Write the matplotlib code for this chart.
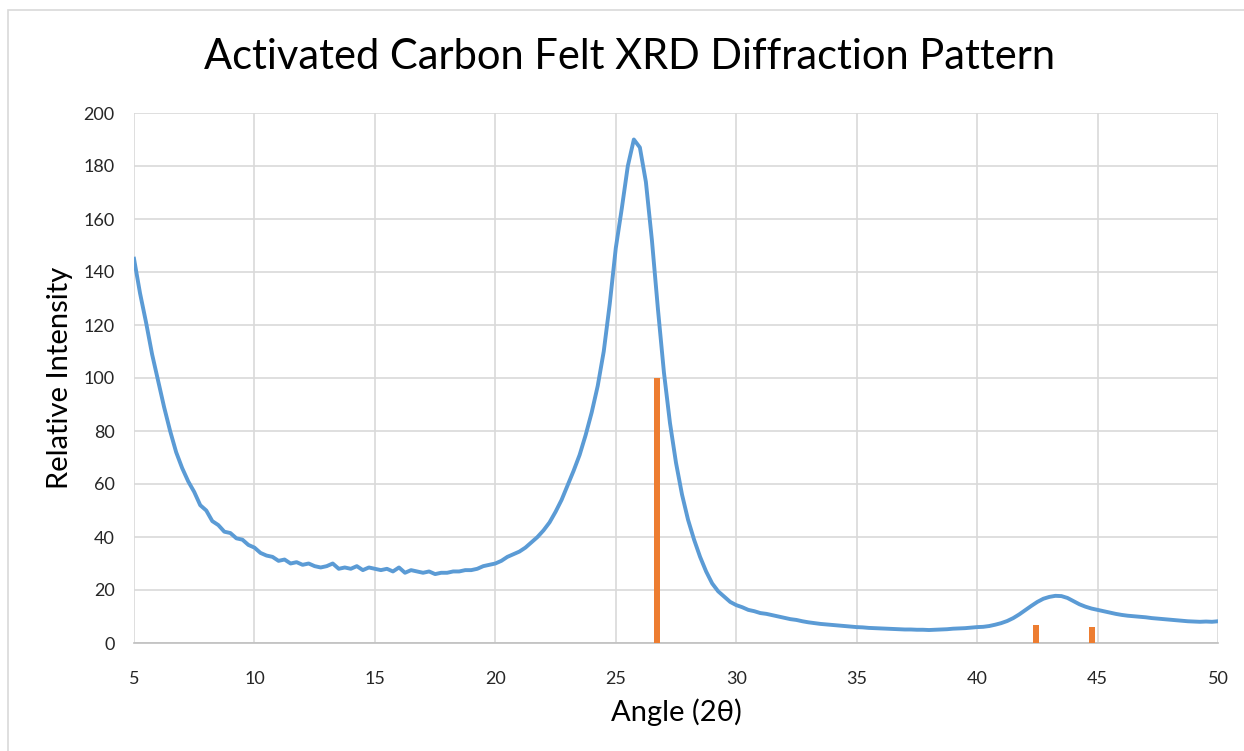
import numpy as np
import matplotlib
matplotlib.use('Agg')
import matplotlib.pyplot as plt
from matplotlib.patches import Rectangle

# Measured scan, 0.25 degree step from 5 to 50 (2-theta)
angle = np.round(np.arange(5.0, 50.001, 0.25), 2)
intensity = [
    145, 132, 121, 109, 99, 89, 80, 72,                 # 5 - 6.75
    66, 61, 57, 52, 50, 46, 44.5, 42,                   # 7 - 8.75
    41.5, 39.5, 39, 37, 36, 34, 33, 32.5,               # 9 - 10.75
    31, 31.5, 30, 30.5, 29.5, 30, 29, 28.5,             # 11 - 12.75
    29, 30, 28, 28.5, 28, 29, 27.5, 28.5,               # 13 - 14.75
    28, 27.5, 28, 27, 28.5, 26.5, 27.5, 27,             # 15 - 16.75
    26.5, 27, 26, 26.5, 26.5, 27, 27, 27.5,             # 17 - 18.75
    27.5, 28, 29, 29.5, 30, 31, 32.5, 33.5,             # 19 - 20.75
    34.5, 36, 38, 40, 42.5, 45.5, 49.5, 54,             # 21 - 22.75
    59.5, 65, 71, 78.5, 87, 97, 110, 128,               # 23 - 24.75
    149, 164, 180, 190, 187, 174, 152, 126,             # 25 - 26.75
    102, 83, 68, 56, 46.5, 39, 32.5, 27,                # 27 - 28.75
    22.5, 19.5, 17.5, 15.5, 14.3, 13.5, 12.5, 12,       # 29 - 30.75
    11.3, 11, 10.5, 10, 9.5, 9, 8.7, 8.2,               # 31 - 32.75
    7.8, 7.5, 7.2, 7, 6.8, 6.6, 6.4, 6.2,               # 33 - 34.75
    6, 5.9, 5.7, 5.6, 5.5, 5.4, 5.3, 5.2,               # 35 - 36.75
    5.1, 5.1, 5.0, 5.0, 4.9, 5.0, 5.1, 5.2,             # 37 - 38.75
    5.4, 5.5, 5.6, 5.8, 6, 6.1, 6.4, 6.9,               # 39 - 40.75
    7.5, 8.3, 9.4, 10.8, 12.4, 14, 15.5, 16.7,          # 41 - 42.75
    17.4, 17.8, 17.7, 17, 15.8, 14.6, 13.7, 13,         # 43 - 44.75
    12.5, 12, 11.5, 11, 10.6, 10.3, 10.1, 9.9,          # 45 - 46.75
    9.7, 9.4, 9.2, 9, 8.8, 8.6, 8.4, 8.2,               # 47 - 48.75
    8.1, 8.0, 8.1, 8.0, 8.2,                            # 49 - 50
]

# Graphite reference lines
ref_angle = [26.7, 42.45, 44.75]
ref_intensity = [100, 6.8, 6.2]

BLUE = '#5B9BD5'
ORANGE = '#ED7D31'
GRID = '#D9D9D9'
TEXT = '#000000'

plt.rcParams['font.family'] = ['Lato', 'DejaVu Sans']

fig = plt.figure(figsize=(12.44, 7.51), dpi=100)
fig.patches.append(Rectangle((8 / 1244, -0.1), 1.2, 1.1 - 10 / 751,
                             transform=fig.transFigure, fill=False,
                             edgecolor=GRID, linewidth=1.2))

ax = fig.add_axes([134 / 1244, 1 - 643 / 751, (1218 - 134) / 1244, (643 - 113) / 751])

ax.plot(angle, intensity, color=BLUE, linewidth=2.8, solid_joinstyle='round', zorder=3)
ax.bar(ref_angle, ref_intensity, width=0.25, color=ORANGE, zorder=4)

ax.set_xlim(5, 50)
ax.set_ylim(0, 200)
ax.set_xticks(range(5, 51, 5))
ax.set_yticks(range(0, 201, 20))
ax.grid(True, color=GRID, linewidth=1.2, zorder=0)
ax.set_axisbelow(True)
for side in ('top', 'right', 'left'):
    ax.spines[side].set_visible(False)
ax.spines['bottom'].set_color('#BFBFBF')
ax.spines['bottom'].set_linewidth(1.2)
ax.tick_params(length=0, labelsize=13, colors='#262626')
ax.tick_params(axis='x', pad=20)
ax.tick_params(axis='y', pad=14)

fig.text(630 / 1244, 1 - 57 / 751, 'Activated Carbon Felt XRD Diffraction Pattern',
         ha='center', va='center', fontsize=30, color=TEXT)
fig.text(676 / 1244, 1 - 712 / 751, 'Angle (2θ)', ha='center', va='center',
         fontsize=21, color=TEXT)
fig.text(60 / 1244, 1 - 378 / 751, 'Relative Intensity', ha='center', va='center',
         rotation=90, fontsize=21, color=TEXT)

fig.savefig('out.png', dpi=100)
